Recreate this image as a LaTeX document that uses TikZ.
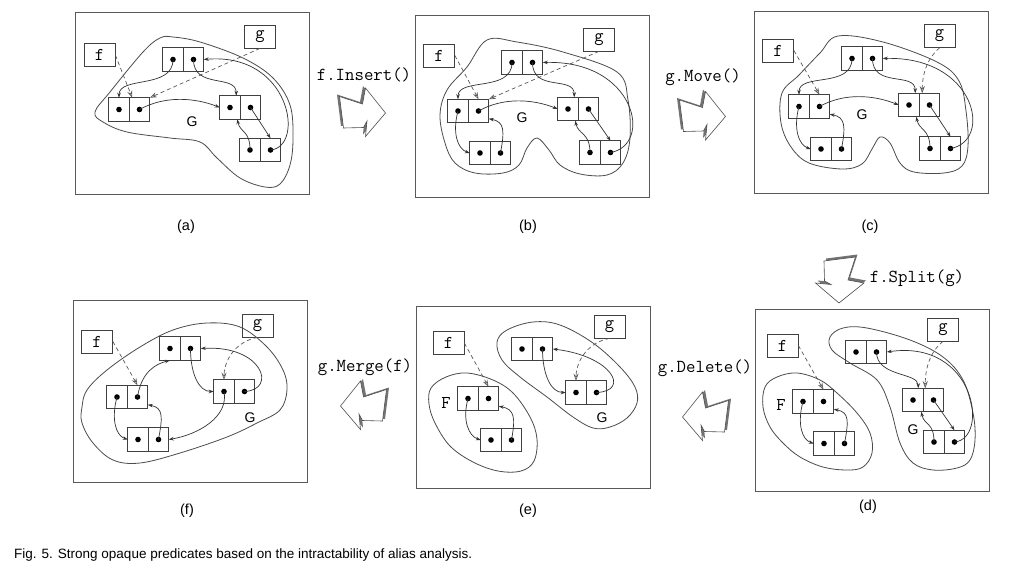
\documentclass[tikz,border=0pt]{standalone}
\usepackage{fontspec}
\setmainfont{Liberation Sans}
\setsansfont{Liberation Sans}
\usetikzlibrary{
	arrows.meta,
	positioning
	}
\tikzset{font={\fontsize{14pt}{16}\selectfont}}

% two-cell record with a pointer dot in each cell
\newcommand{\cellpair}[2]{%
  \node[cell] (#1l) at (#2) {};
  \node[cell, right=0pt of #1l] (#1r) {};
  \fill (#1l) circle (2.8pt) (#1r) circle (2.8pt);
}
% zigzag transition arrow, pointing right before transforming
\newcommand{\zigarrow}[2]{%
  \begin{scope}[shift={(#1)},#2]
    \fill[black!55] (-26.5,-16.5) -- (-3.5,-9) -- (-0.5,-25) -- (19.5,0) -- (-0.5,23.5) -- (1,8) -- (-2.5,14.5) -- (-22.5,15) -- cycle;
    \draw[black!70, fill=white, line width=0.6pt] (-24,-14.5) -- (-1,-7) -- (2,-23) -- (22,2) -- (2,25.5) -- (3.5,10) -- (0,16.5) -- (-20,17) -- cycle;
  \end{scope}}

\begin{document}
\begin{tikzpicture}[x=1pt, y=-1pt,
    frame/.style={draw=black!65, line width=0.9pt, minimum width=234pt, minimum height=182pt, inner sep=0pt},
    cell/.style={draw=black!75, line width=0.7pt, minimum width=20.5pt, minimum height=23.5pt, inner sep=0pt, outer sep=0pt},
    var/.style={draw=black!75, line width=0.7pt, minimum width=31pt, minimum height=23pt, inner sep=0pt, font=\ttfamily\fontsize{18pt}{20}\selectfont},
    op/.style={font=\ttfamily\fontsize{18.3pt}{20}\selectfont},
    setname/.style={font=\sffamily\fontsize{14pt}{16}\selectfont},
    mononame/.style={font=\ttfamily\fontsize{18pt}{20}\selectfont},
    sub/.style={font=\sffamily\fontsize{14.5pt}{16}\selectfont},
    hull/.style={draw=black!70, line width=0.8pt},
    ptr/.style={draw=black!80, line width=0.7pt, -{Stealth[length=5pt,width=3.5pt]}},
    alias/.style={draw=black!65, line width=0.7pt, dash pattern=on 4pt off 3pt, -{Stealth[open,length=7pt,width=5pt]}}]
  \useasboundingbox[fill=white] (0,0) rectangle (1009,568);

  % (a)
  \begin{scope}[shift={(75,12)}]
    \node[frame] (fra) at (117,91) {};
    \draw[hull] plot[smooth cycle, tension=0.6] coordinates {(20,100) (35,80) (68,40) (85,26) (98,25) (125,30) (168,46) (198,66) (215,93) (218,126) (215,153) (205,172) (190,175) (165,166) (142,146) (125,130) (95,126) (52,120) (28,110)};
    \node[var] (fa) at (24.5,43) {f};
    \node[var] (ga) at (185,24.5) {g};
    \cellpair{aT}{98,47.5}
    \cellpair{aL}{44,97.5}
    \cellpair{aR}{155,95.5}
    \cellpair{aQ}{175,138}
    \node[setname] (Ga) at (117,110) {G};
    \draw[alias] (fa.east) -- ([xshift=3pt]aLr.north west);
    \draw[alias] (ga.south) -- (aLr.north east);
    \draw[ptr] (aTl.center) .. controls +(0,30) and +(0,-22) .. (aLl.north);
    \draw[ptr] (aTr.center) .. controls +(0,30) and +(0,-22) .. ([xshift=-4pt]aRl.north east);
    \draw[ptr] (aLr.center) .. controls +(25,-14) and +(-25,-10) .. (aRl.west);
    \draw[ptr] (aRr.center) -- (aQr.north);
    \draw[ptr] (aQl.center) .. controls +(0,-20) and +(3,14) .. ([xshift=-3pt]aRl.south east);
    \draw[ptr] (aQr.center) .. controls +(35,-3) and +(87,-7.5) .. (aTr.east);
  \end{scope}
  \node[sub] (la) at (186,227) {(a)};

  % (b)
  \begin{scope}[shift={(415,15)}]
    \node[frame] (frb) at (117,91) {};
    \draw[hull] plot[smooth cycle, tension=0.6] coordinates {(72,25) (102,27) (148,37) (202,57) (213,85) (215,123) (208,148) (192,160) (165,159) (145,150) (134,135) (122,123) (112,133) (104,150) (88,158) (60,158) (40,148) (30,128) (25,100) (32,75) (52,52)};
    \node[var] (fb) at (24,40.5) {f};
    \node[var] (gb) at (184,24.5) {g};
    \cellpair{bT}{97,47.5}
    \cellpair{bL}{43,96}
    \cellpair{bR}{153,94}
    \cellpair{bP}{65,138}
    \cellpair{bQ}{175,137.5}
    \node[setname] (Gb) at (107,103) {G};
    \draw[alias] (fb.east) -- (bLr.north);
    \draw[alias] (gb.south) -- (bLr.north east);
    \draw[ptr] (bTl.center) .. controls +(0,30) and +(0,-22) .. (bLl.north);
    \draw[ptr] (bTr.center) .. controls +(0,30) and +(0,-22) .. ([xshift=-4pt]bRl.north east);
    \draw[ptr] (bLr.center) .. controls +(25,-14) and +(-25,-10) .. (bRl.west);
    \draw[ptr] (bLl.center) .. controls +(-6,22) and +(-12,-4) .. (bPl.west);
    \draw[ptr] (bPr.center) .. controls +(4,-22) and +(16,3) .. ([yshift=4pt]bLr.south east);
    \draw[ptr] (bRr.center) -- (bQr.north);
    \draw[ptr] (bQl.center) .. controls +(0,-20) and +(3,14) .. ([xshift=-3pt]bRl.south east);
    \draw[ptr] (bQr.center) .. controls +(43,-7.5) and +(93,-2.5) .. (bTr.east);
  \end{scope}
  \node[sub] (lb) at (528,227) {(b)};

  % (c)
  \begin{scope}[shift={(754,11)}]
    \node[frame] (frc) at (117,91) {};
    \draw[hull] plot[smooth cycle, tension=0.6] coordinates {(84,25) (129,31) (183,51) (205,70) (212,100) (214,135) (208,155) (190,162) (160,161) (146,152) (136,132) (126,126) (118,138) (108,153) (88,158) (55,152) (37,136) (27,112) (28,82) (45,64) (66,42)};
    \node[var] (fc) at (24,39.5) {f};
    \node[var] (gc) at (185.5,25) {g};
    \cellpair{cT}{98,47.5}
    \cellpair{cL}{45,95.5}
    \cellpair{cR}{155,94}
    \cellpair{cP}{67,138}
    \cellpair{cQ}{176,137.5}
    \node[setname] (Gc) at (108,104) {G};
    \draw[alias] (fc.east) -- (cLr.north);
    \draw[alias] (gc.south) .. controls +(-14,12) and +(0,-16) .. ([xshift=3pt]cRr.north west);
    \draw[ptr] (cTl.center) .. controls +(0,30) and +(0,-22) .. (cLl.north);
    \draw[ptr] (cTr.center) .. controls +(0,30) and +(0,-22) .. ([xshift=-4pt]cRl.north east);
    \draw[ptr] (cLr.center) .. controls +(25,-14) and +(-25,-10) .. (cRl.west);
    \draw[ptr] (cLl.center) .. controls +(-6,22) and +(-12,-4) .. (cPl.west);
    \draw[ptr] (cPr.center) .. controls +(4,-22) and +(16,3) .. ([yshift=4pt]cLr.south east);
    \draw[ptr] (cRr.center) -- (cQr.north);
    \draw[ptr] (cQl.center) .. controls +(0,-20) and +(3,14) .. ([xshift=-3pt]cRl.south east);
    \draw[ptr] (cQr.center) .. controls +(43,-7.5) and +(93,-2.5) .. (cTr.east);
  \end{scope}
  \node[sub] (lc) at (870,227) {(c)};

  % (d)
  \begin{scope}[shift={(755,309)}]
    \node[frame] (frd) at (117,91) {};
    \draw[hull] plot[smooth cycle, tension=0.6] coordinates {(10,78) (22,68) (42,64) (65,71) (82,84) (102,104) (115,124) (117,144) (108,158) (92,161) (68,158) (45,148) (28,134) (15,118) (8,98)};
    \draw[hull] plot[smooth cycle, tension=0.6] coordinates {(75,28) (88,19) (112,19) (155,31) (188,48) (208,71) (218,104) (220,131) (215,151) (202,159) (178,161) (158,154) (145,134) (135,98) (122,71) (95,54) (77,41)};
    \node[var] (fd) at (27.5,36.5) {f};
    \node[var] (gd) at (188,20.5) {g};
    \cellpair{dT}{101,43}
    \cellpair{dL}{48,92.5}
    \cellpair{dR}{158,91}
    \cellpair{dP}{69,134.5}
    \cellpair{dQ}{179,133}
    \node[mononame] (Fd) at (26,96) {F};
    \node[setname] (Gd) at (158,121) {G};
    \draw[alias] (fd.east) -- (dLr.north);
    \draw[alias] (gd.south) .. controls +(-15,12) and +(0,-16) .. ([xshift=2pt]dRr.north west);
    \draw[ptr] (dTr.center) .. controls +(0,25) and +(0,-16) .. ([xshift=-5pt]dRl.north east);
    \draw[ptr] (dRr.center) -- (dQr.north);
    \draw[ptr] (dQl.center) .. controls +(0,-20) and +(3,14) .. ([xshift=-2pt]dRl.south east);
    \draw[ptr] (dQr.center) .. controls +(35.5,-3) and +(89,-13) .. (dTr.east);
    \draw[ptr] (dLl.center) .. controls +(-6,22) and +(-12,-4) .. (dPl.west);
    \draw[ptr] (dPr.center) .. controls +(4,-22) and +(16,3) .. ([yshift=4pt]dLr.south east);
  \end{scope}
  \node[sub] (ld) at (868,507) {(d)};

  % (e)
  \begin{scope}[shift={(416,306)}]
    \node[frame] (fre) at (117,91) {};
    \draw[hull] plot[smooth cycle, tension=0.6] coordinates {(15,82) (30,71) (51,67) (77,74) (97,87) (114,111) (121,133) (118,155) (105,165) (82,165) (57,156) (34,140) (19,117) (13,98)};
    \draw[hull] plot[smooth cycle, tension=0.6] coordinates {(81,36) (91,24) (117,16) (144,19) (177,37) (204,61) (219,81) (221,97) (211,112) (194,121) (177,122) (157,111) (131,91) (104,71) (86,54)};
    \node[var] (fe) at (32.5,37) {f};
    \node[var] (ge) at (193.5,20.5) {g};
    \cellpair{eT}{106,43}
    \cellpair{eR}{160,86.5}
    \cellpair{eL}{52,92.5}
    \cellpair{eP}{75,134}
    \node[mononame] (Fe) at (30,97) {F};
    \node[setname] (Ge) at (186,112) {G};
    \draw[alias] (fe.east) -- (eLr.north);
    \draw[alias] (ge.south) .. controls +(-25,5) and +(0,-16) .. (eRl.north);
    \draw[ptr] (eTr.center) .. controls +(0,25) and +(-15,0) .. (eRl.west);
    \draw[ptr] (eRr.center) .. controls +(34.5,-1.5) and +(59,7) .. (eTr.east);
    \draw[ptr] (eLl.center) .. controls +(-6,22) and +(-12,-4) .. (ePl.west);
    \draw[ptr] (ePr.center) .. controls +(4,-22) and +(16,3) .. ([yshift=4pt]eLr.south east);
  \end{scope}
  \node[sub] (le) at (528,511) {(e)};

  % (f)
  \begin{scope}[shift={(73,300)}]
    \node[frame] (frf) at (117,91) {};
    \draw[hull] plot[smooth cycle, tension=0.6] coordinates {(9,107) (14,90) (34,70) (67,47) (100,30) (134,23) (167,27) (194,47) (210,70) (214,90) (207,110) (184,123) (154,137) (107,153) (67,163) (40,160) (20,143) (9,123)};
    \node[var] (ff) at (24,41.5) {f};
    \node[var] (gf) at (184.5,25.5) {g};
    \cellpair{fT}{97,48.5}
    \cellpair{fL}{44,97}
    \cellpair{fR}{151,91.5}
    \cellpair{fP}{65,139.5}
    \node[setname] (Gf) at (177,118) {G};
    \draw[alias] (ff.east) -- (fLr.north);
    \draw[alias] (gf.south) .. controls +(-25,5) and +(0,-16) .. (fRl.north);
    \draw[ptr] (fLr.center) .. controls +(4,-25) and +(-15,4) .. (fTl.south);
    \draw[ptr] (fTr.center) .. controls +(0,25) and +(-15,0) .. (fRl.west);
    \draw[ptr] (fRr.center) .. controls +(33,-1.5) and +(62,-3.5) .. (fTr.east);
    \draw[ptr] (fRl.center) .. controls +(5,25) and +(30,-5) .. (fPr.east);
    \draw[ptr] (fLl.center) .. controls +(-6,22) and +(-12,-4) .. (fPl.west);
    \draw[ptr] (fPr.center) .. controls +(4,-22) and +(16,3) .. ([yshift=4pt]fLr.south east);
  \end{scope}
  \node[sub] (lf) at (187,511) {(f)};

  % transitions
  \node[op] (ins) at (364,75) {f.Insert()};
  \zigarrow{363.5,111}{}
  \node[op] (mov) at (703,77) {g.Move()};
  \zigarrow{703.5,114.5}{}
  \node[op] (spl) at (917,278) {f.Split(g)};
  \zigarrow{841,281}{rotate=-90}
  \node[op] (del) at (705,368) {g.Delete()};
  \zigarrow{704.5,415}{xscale=-1}
  \node[op] (mrg) at (365,367) {g.Merge(f)};
  \zigarrow{362.5,404}{xscale=-1}

  \node[anchor=west, inner sep=0pt, font=\sffamily\fontsize{13.5pt}{15}\selectfont] (cap) at (14,555) {Fig. 5. Strong opaque predicates based on the intractability of alias analysis.};
\end{tikzpicture}
\end{document}
